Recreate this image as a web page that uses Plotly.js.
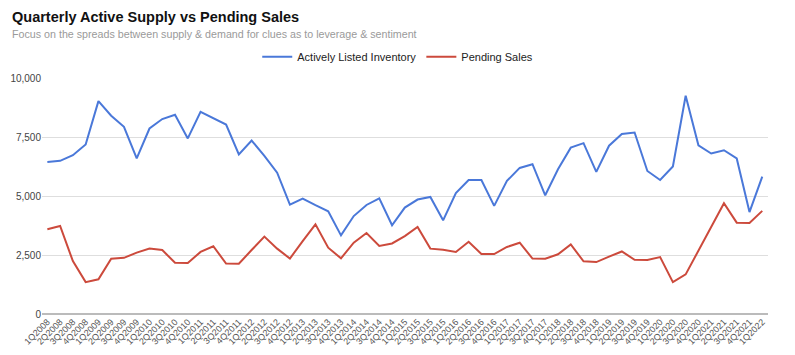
<!DOCTYPE html>
<html>
<head>
<meta charset="utf-8">
<script src="https://cdn.plot.ly/plotly-3.0.1.min.js"></script>
<style>html,body{margin:0;padding:0;background:#fff;}#chart{width:795px;height:355px;}</style>
</head>
<body>
<div id="chart"></div>
<script>
const quarters = [
 "1Q2008","2Q2008","3Q2008","4Q2008","1Q2009","2Q2009","3Q2009","4Q2009",
 "1Q2010","2Q2010","3Q2010","4Q2010","1Q2011","2Q2011","3Q2011","4Q2011",
 "1Q2012","2Q2012","3Q2012","4Q2012","1Q2013","2Q2013","3Q2013","4Q2013",
 "1Q2014","2Q2014","3Q2014","4Q2014","1Q2015","2Q2015","3Q2015","4Q2015",
 "1Q2016","2Q2016","3Q2016","4Q2016","1Q2017","2Q2017","3Q2017","4Q2017",
 "1Q2018","2Q2018","3Q2018","4Q2018","1Q2019","2Q2019","3Q2019","4Q2019",
 "1Q2020","2Q2020","3Q2020","4Q2020","1Q2021","2Q2021","3Q2021","4Q2021",
 "1Q2022"
];
const activeInventory = [
 6440,6490,6730,7180,9020,8400,7930,6590,
 7860,8260,8440,7440,8570,8310,8030,6760,
 7350,6700,5990,4630,4890,4610,4350,3330,
 4150,4620,4900,3760,4510,4850,4960,3970,
 5120,5680,5680,4580,5640,6190,6346,5030,
 6130,7050,7240,6020,7130,7630,7690,6060,
 5680,6250,9250,7150,6800,6940,6590,4320,
 5820
];
const pendingSales = [
 3590,3730,2240,1350,1470,2340,2380,2600,
 2770,2710,2170,2160,2630,2870,2140,2130,
 2710,3280,2770,2350,3090,3800,2810,2360,
 3020,3430,2880,2990,3300,3690,2770,2720,
 2630,3060,2540,2540,2840,3020,2350,2340,
 2530,2950,2230,2200,2430,2650,2300,2290,
 2410,1350,1680,2670,3670,4690,3870,3860,
 4370
];
const yTicks = [0, 2500, 5000, 7500, 10000];

const traces = [
 {x: quarters, y: activeInventory, type: 'scatter', mode: 'lines', name: 'Actively Listed Inventory',
  line: {color: '#4a78d9', width: 2}},
 {x: quarters, y: pendingSales, type: 'scatter', mode: 'lines', name: 'Pending Sales',
  line: {color: '#cc4a3c', width: 2}}
];

const layout = {
 width: 795, height: 355,
 margin: {l: 42, r: 27, t: 78, b: 41},
 paper_bgcolor: '#fff', plot_bgcolor: '#fff',
 font: {family: 'Arial, "Liberation Sans", sans-serif', color: '#444'},
 showlegend: true,
 legend: {orientation: 'h', x: 0.49, xanchor: 'center', y: 1.09, yanchor: 'middle',
  font: {size: 11, color: '#222'}, itemwidth: 30, bgcolor: 'rgba(0,0,0,0)'},
 xaxis: {type: 'category', range: [-0.42, 56.45], tickangle: -45, showgrid: false,
  tickfont: {size: 9, color: '#555'}, ticks: '', showline: false, zeroline: false, automargin: false},
 yaxis: {range: [0, 10000], tickvals: yTicks, tickformat: ',', showgrid: true, gridcolor: '#dedede',
  gridwidth: 1, zeroline: true, zerolinecolor: '#bbbbbb', zerolinewidth: 2,
  tickfont: {size: 10, color: '#444'}, ticks: '', showline: false, automargin: false},
 annotations: [
  {text: '<b>Quarterly Active Supply vs Pending Sales</b>', xref: 'paper', yref: 'paper',
   x: -0.044, y: 1.26, xanchor: 'left', yanchor: 'middle', showarrow: false,
   font: {size: 14.5, color: '#111'}, align: 'left'},
  {text: 'Focus on the spreads between supply &amp; demand for clues as to leverage &amp; sentiment',
   xref: 'paper', yref: 'paper', x: -0.044, y: 1.188, xanchor: 'left', yanchor: 'middle', showarrow: false,
   font: {size: 10.7, color: '#9a9a9a'}, align: 'left'}
 ]
};
Plotly.newPlot('chart', traces, layout, {displayModeBar: false, staticPlot: true});
</script>
</body>
</html>
